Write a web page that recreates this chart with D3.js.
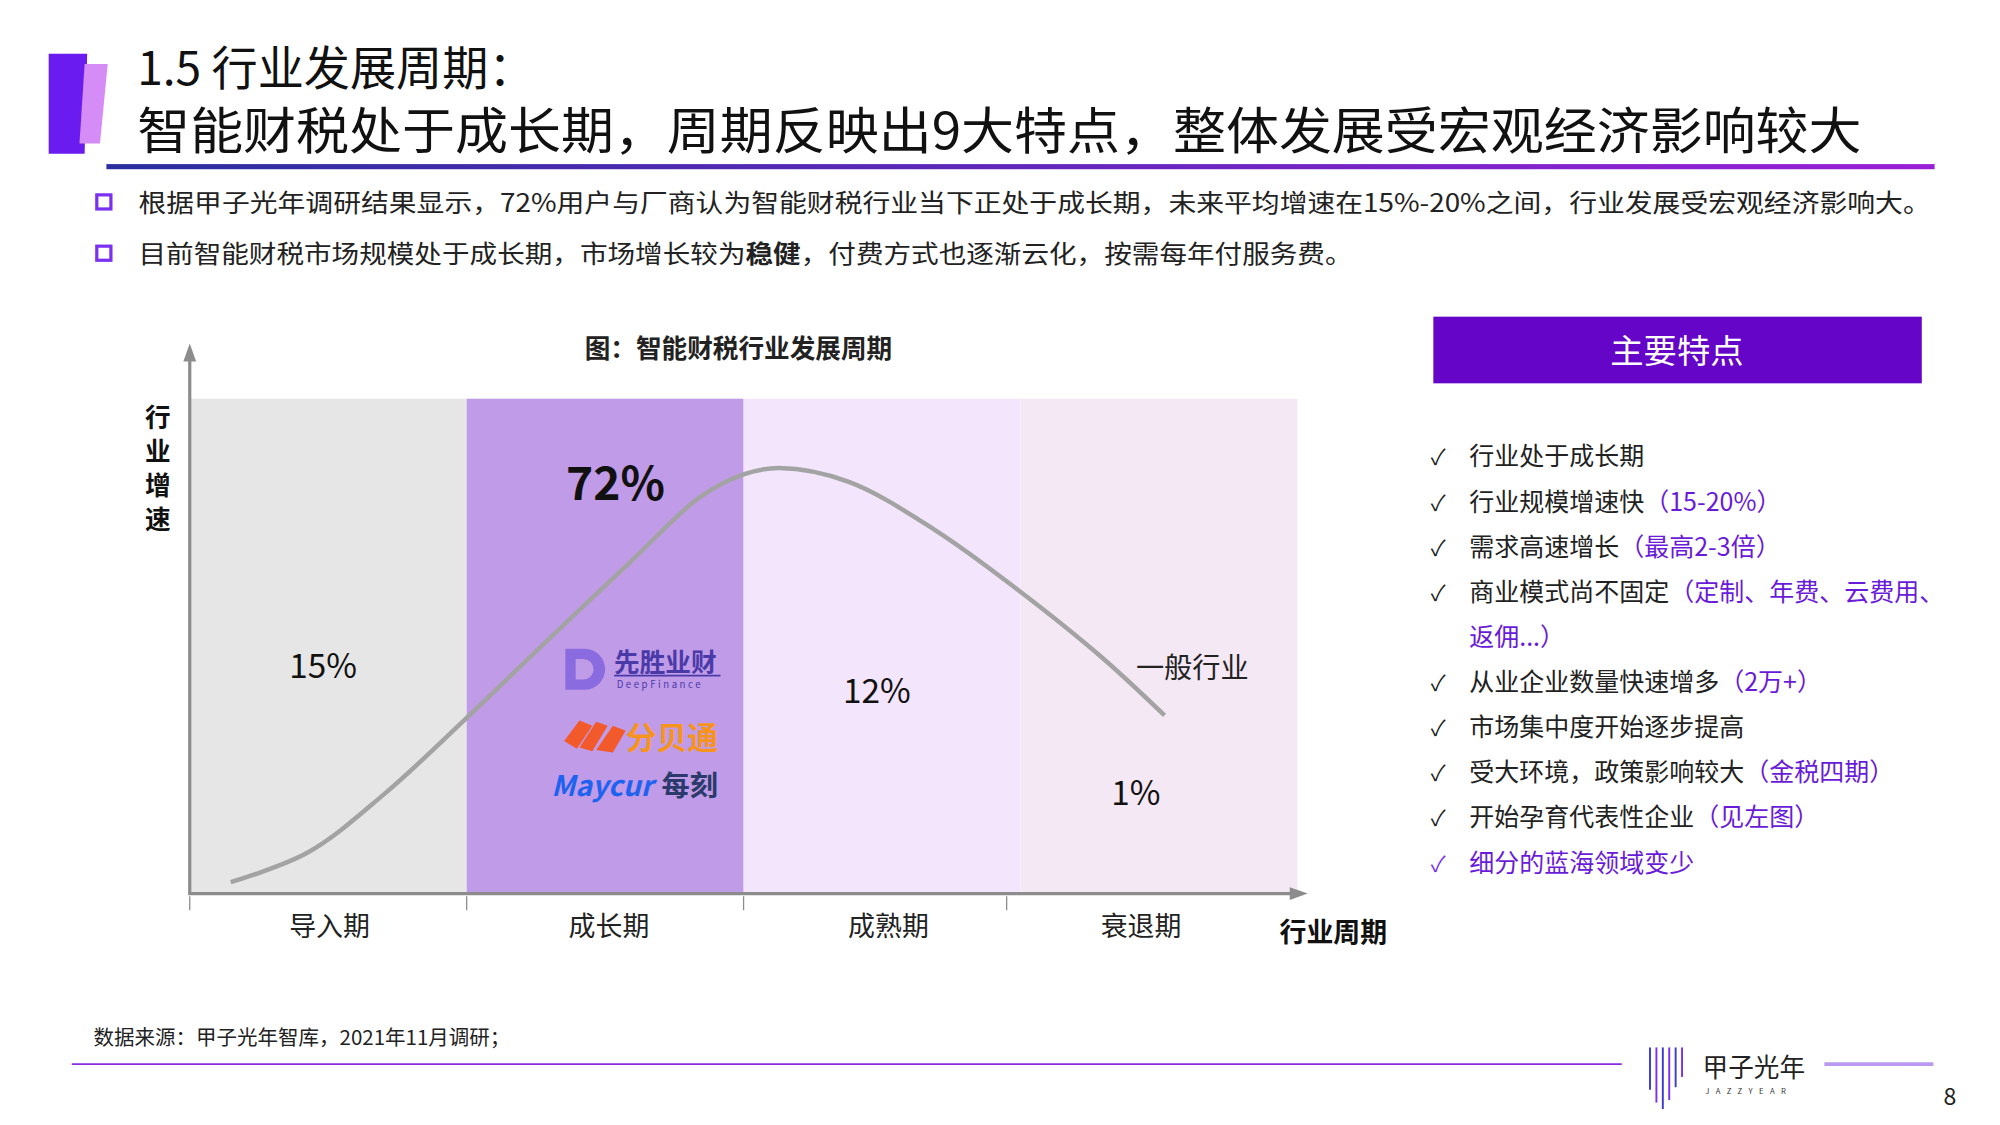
<!DOCTYPE html>
<html><head><meta charset="utf-8">
<script src="https://cdn.jsdelivr.net/npm/d3@7/dist/d3.min.js"></script>
<style>body{margin:0;background:#fff}svg{display:block;font-family:"Noto Sans CJK SC","Noto Sans",sans-serif}</style>
</head><body>
<script>
const phases=["导入期","成长期","成熟期","衰退期"];
const phaseShares=["15%","72%","12%","1%"];
const phaseColors=["#e6e6e6","#c09be8","#f3e6fc","#f5e8f5"];
const curveX=[0.148,0.426,0.70,1.0,1.27,1.60,1.84,2.0,2.13,2.38,2.69,2.99,3.29,3.52];
const curveY=[2.3,8.3,20.0,35.5,50.0,67.5,80.0,84.7,86.0,83.2,73.5,61.4,47.9,36.0];
const features=[["行业处于成长期",""],["行业规模增速快","（15-20%）"],["需求高速增长","（最高2-3倍）"],["商业模式尚不固定","（定制、年费、云费用、"],["","返佣...）"],["从业企业数量快速增多","（2万+）"],["市场集中度开始逐步提高",""],["受大环境，政策影响较大","（金税四期）"],["开始孕育代表性企业","（见左图）"],["","细分的蓝海领域变少"]];

const svg=d3.select("body").append("svg").attr("width",2000).attr("height",1125).attr("viewBox","0 0 1560 877.5");
svg.append("path").attr("d","M38,42 L68,42 L66,120 L38,120Z").attr("fill","#6a1bef");
svg.append("path").attr("d","M70,50 L84,50 L78,112 L62,112 L66,50Z").attr("fill","#d68cf6");
svg.append("text").attr("x",107).attr("y",66).attr("font-size",36).attr("fill","#111").text("1.5 行业发展周期：");
svg.append("text").attr("x",107).attr("y",116).attr("font-size",39).attr("textLength",1345).attr("lengthAdjust","spacingAndGlyphs").attr("fill","#111").text("智能财税处于成长期，周期反映出9大特点，整体发展受宏观经济影响较大");
const g=svg.append("defs").append("linearGradient").attr("id","hg");
g.append("stop").attr("offset","0").attr("stop-color","#2a2f9e");g.append("stop").attr("offset","1").attr("stop-color","#9a1fd8");
svg.append("rect").attr("x",83).attr("y",128).attr("width",1426).attr("height",4).attr("fill","url(#hg)");
[[158,"根据甲子光年调研结果显示，72%用户与厂商认为智能财税行业当下正处于成长期，未来平均增速在15%-20%之间，行业发展受宏观经济影响大。"],[198,null]].forEach(([y,t])=>{
 svg.append("rect").attr("x",75.5).attr("y",y-6).attr("width",11).attr("height",11).attr("fill","none").attr("stroke","#7b2ff0").attr("stroke-width",2.5);
 const tx=svg.append("text").attr("x",108).attr("y",y+7).attr("font-size",19.5).attr("fill","#222");
 if(t) tx.attr("textLength",1398).attr("lengthAdjust","spacingAndGlyphs").text(t); else {tx.attr("textLength",947).attr("lengthAdjust","spacingAndGlyphs");tx.append("tspan").text("目前智能财税市场规模处于成长期，市场增长较为");tx.append("tspan").attr("font-weight","bold").text("稳健");tx.append("tspan").text("，付费方式也逐渐云化，按需每年付服务费。");}
});
const x=d3.scaleLinear().domain([0,4]).range([148,1012]);
const y=d3.scaleLinear().domain([0,100]).range([697,311]);
phases.forEach((p,i)=>svg.append("rect").attr("x",x(i)).attr("y",y(100)).attr("width",x(i+1)-x(i)).attr("height",y(0)-y(100)).attr("fill",phaseColors[i]));
svg.append("text").attr("x",576).attr("y",279).attr("text-anchor","middle").attr("font-size",20).attr("font-weight","bold").attr("fill","#222").text("图：智能财税行业发展周期");
const ax="#8c8c8c";
svg.append("line").attr("x1",148).attr("y1",698).attr("x2",148).attr("y2",278).attr("stroke",ax).attr("stroke-width",2.5);
svg.append("path").attr("d","M148,268 L143,282 L153,282Z").attr("fill",ax);
svg.append("line").attr("x1",147).attr("y1",697).attr("x2",1010).attr("y2",697).attr("stroke",ax).attr("stroke-width",2.5);
svg.append("path").attr("d","M1020,697 L1006,692 L1006,702Z").attr("fill",ax);
[0,1,2,2.95].forEach(t=>svg.append("line").attr("x1",x(t)).attr("x2",x(t)).attr("y1",699).attr("y2",710).attr("stroke",ax).attr("stroke-width",1));
const lx=[257,475,693,890];
phases.forEach((p,i)=>svg.append("text").attr("x",lx[i]).attr("y",730).attr("text-anchor","middle").attr("font-size",21).attr("fill","#222").text(p));
svg.append("text").attr("x",1040).attr("y",735).attr("text-anchor","middle").attr("font-size",21).attr("font-weight","bold").attr("fill","#111").text("行业周期");
"行业增速".split("").forEach((c,i)=>svg.append("text").attr("x",123).attr("y",333+i*26.5).attr("text-anchor","middle").attr("font-size",20).attr("font-weight","bold").attr("fill","#111").text(c));
const line=d3.line().x(d=>x(d[0])).y(d=>y(d[1])).curve(d3.curveCatmullRom);
svg.append("path").attr("d",line(curveX.map((v,i)=>[v,curveY[i]]))).attr("fill","none").attr("stroke","#a3a3a3").attr("stroke-width",3.5);
const sp=[[252,529,26,"normal"],[480,390,36,"bold"],[684,548,26,"normal"],[886,628,26,"normal"]];
phaseShares.forEach((s,i)=>svg.append("text").attr("x",sp[i][0]).attr("y",sp[i][1]).attr("text-anchor","middle").attr("font-size",sp[i][2]).attr("font-weight",sp[i][3]).attr("fill","#111").text(s));
svg.append("text").attr("x",930).attr("y",529).attr("text-anchor","middle").attr("font-size",22).attr("fill","#222").text("一般行业");
svg.append("path").attr("d","M441,506 L456,506 A16,16 0 0 1 456,538 L441,538Z M449,514 L449,530 L455,530 A8,8 0 0 0 455,514Z").attr("fill","#8a6be0").attr("fill-rule","evenodd");
svg.append("text").attr("x",479).attr("y",524).attr("font-size",20).attr("font-weight","bold").attr("fill","#4a3aa8").text("先胜业财");
svg.append("line").attr("x1",479).attr("x2",562).attr("y1",527).attr("y2",527).attr("stroke","#4a3aa8").attr("stroke-width",1.5);
svg.append("text").attr("x",481).attr("y",537).attr("font-size",7.5).attr("letter-spacing",2).attr("fill","#4a3aa8").text("DeepFinance");
svg.append("path").attr("d","M440,578 L452,562 L462,566 L450,584Z M452,583 L465,563 L474,566 L462,586Z M465,585 L478,566 L488,570 L478,587Z").attr("fill","#f35a2b");
svg.append("text").attr("x",488).attr("y",584).attr("font-size",24).attr("font-weight","bold").attr("fill","#f7941d").text("分贝通");
svg.append("text").attr("x",430).attr("y",621).attr("font-size",22).attr("font-weight","bold").attr("font-style","italic").attr("fill","#1e63f0").text("Maycur");
svg.append("text").attr("x",516).attr("y",621).attr("font-size",22).attr("font-weight","bold").attr("fill","#2a3a6a").text("每刻");
svg.append("rect").attr("x",1118).attr("y",247).attr("width",381).attr("height",52).attr("fill","#6405c8");
svg.append("text").attr("x",1308).attr("y",283).attr("text-anchor","middle").attr("font-size",26).attr("fill","#fff").text("主要特点");
features.forEach((f,i)=>{
 const yy=363+i*35.2, last=i===features.length-1;
 if(f[0]||last) svg.append("text").attr("x",1116).attr("y",yy).attr("font-size",17).attr("fill",last?"#7b2ff0":"#222").text("✓");
 const t=svg.append("text").attr("x",1146).attr("y",yy).attr("font-size",19.5).attr("fill","#222");
 t.append("tspan").text(f[0]);
 if(f[1]) t.append("tspan").attr("fill","#6a1bd8").text(f[1]);
});
svg.append("text").attr("x",73).attr("y",815).attr("font-size",16).attr("fill","#222").text("数据来源：甲子光年智库，2021年11月调研；");
svg.append("line").attr("x1",56).attr("x2",1265).attr("y1",830).attr("y2",830).attr("stroke","#8a2be2").attr("stroke-width",1.5);
[0,5,10,15,20,25].forEach((d,i)=>svg.append("line").attr("x1",1287+d).attr("x2",1287+d).attr("y1",817).attr("y2",[850,860,865,858,848,840][i]).attr("stroke",i%2?"#7b2ff0":"#3b3bd0").attr("stroke-width",1.5));
svg.append("text").attr("x",1328).attr("y",840).attr("font-size",20).attr("fill","#222").text("甲子光年");
svg.append("text").attr("x",1330).attr("y",853).attr("font-size",6).attr("letter-spacing",5).attr("fill","#333").text("JAZZYEAR");
svg.append("line").attr("x1",1423).attr("x2",1508).attr("y1",830).attr("y2",830).attr("stroke","#b99af0").attr("stroke-width",3);
svg.append("text").attr("x",1521).attr("y",862).attr("text-anchor","middle").attr("font-size",18).attr("fill","#222").text("8");
</script>
</body></html>
